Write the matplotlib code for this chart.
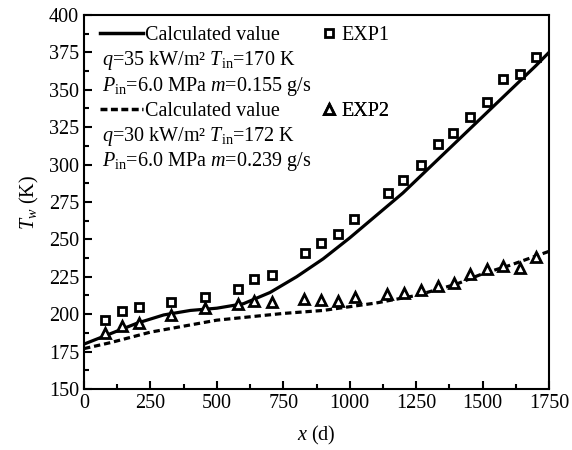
import numpy as np
import matplotlib

matplotlib.use("Agg")
import matplotlib.pyplot as plt
from matplotlib.lines import Line2D

# calculated curves
x_calc1 = [0, 100, 200, 300, 400, 500, 600, 700, 800, 900, 1000, 1100, 1200,
           1300, 1400, 1500, 1600, 1700, 1750]
t_calc1 = [180, 187, 194, 199.5, 202.5, 204, 207, 214.5, 225, 237, 251, 266,
           281, 298, 315, 332, 349, 366, 375]
x_calc2 = [0, 100, 250, 500, 750, 900, 1000, 1100, 1250, 1400, 1500, 1600, 1750]
t_calc2 = [177, 181, 188, 196, 200.5, 202.5, 205, 207.5, 212.5, 220, 227, 232.5, 242]

# experiments
x_exp1 = [79, 143, 208, 328, 454, 578, 641, 706, 830, 890, 955, 1016, 1143,
          1202, 1268, 1331, 1390, 1453, 1518, 1575, 1642, 1702]
t_exp1 = [196, 202.3, 204.6, 208.4, 211.7, 216.8, 223.3, 226, 240.7, 247.4,
          253.6, 263.6, 281.2, 289.7, 299.7, 313.8, 321, 331.8, 341.6, 357.2,
          360.6, 371.6]
x_exp2 = [79, 143, 208, 328, 454, 578, 641, 706, 827, 893, 955, 1018, 1139,
          1205, 1268, 1331, 1392, 1453, 1518, 1577, 1640, 1702]
t_exp2 = [187.2, 192.3, 194.3, 199.5, 204, 206.6, 209, 208.4, 210, 209.5, 209,
          211.3, 213.5, 214.4, 216.2, 218.8, 220.6, 226.8, 230, 232.2, 230.6,
          238.4]

plt.rcParams["font.family"] = "serif"
plt.rcParams["font.serif"] = ["Liberation Serif", "DejaVu Serif"]
plt.rcParams["mathtext.fontset"] = "custom"
plt.rcParams["mathtext.rm"] = "Liberation Serif"
plt.rcParams["mathtext.it"] = "Liberation Serif:italic"
plt.rcParams["font.size"] = 14.5

fig = plt.figure(figsize=(5.72, 4.5), dpi=100)
ax = fig.add_axes([0.1469, 0.1356, 0.8129, 0.8311])

ax.plot(x_calc1, t_calc1, "k-", linewidth=2.3)
ax.plot(x_calc2, t_calc2, "k--", linewidth=2.3, dashes=(2.0, 1.2))
ax.plot(x_exp1, t_exp1, "ks", markerfacecolor="white", markersize=5.5,
        markeredgewidth=2.0, linestyle="none")
ax.plot(x_exp2, t_exp2, "k^", markerfacecolor="white", markersize=6.5,
        markeredgewidth=2.0, linestyle="none")

ax.set_xlim(0, 1750)
ax.set_ylim(150, 400)
ax.set_xticks(np.arange(0, 1751, 250))
ax.set_xticks(np.arange(125, 1750, 250), minor=True)
ax.set_yticks(np.arange(150, 401, 25))
ax.set_yticks(np.arange(162.5, 400, 25), minor=True)
ax.tick_params(which="both", direction="in", top=False, right=False, width=1.5)
ax.tick_params(which="major", length=6)
ax.tick_params(which="minor", length=3.5)
for s in ax.spines.values():
    s.set_linewidth(1.5)

ax.set_xlabel(r"$x$ (d)", labelpad=8)
ax.set_ylabel(r"$T_{w}$ (K)", labelpad=6)


def small_legend(handle, label, x, y, hl, pad):
    leg = ax.legend([handle], [label], loc="center left", bbox_to_anchor=(x, y),
                    frameon=False, borderpad=0, borderaxespad=0,
                    handlelength=hl, handletextpad=pad, fontsize=14.5)
    ax.add_artist(leg)


rows = [0.944, 0.877, 0.810, 0.743, 0.676, 0.609]
solid = Line2D([], [], color="k", linewidth=2.5)
dashed = Line2D([], [], color="k", linewidth=2.5, linestyle="--", dashes=(2.0, 1.0))
sq = Line2D([], [], color="k", marker="s", markerfacecolor="white",
            markersize=5.5, markeredgewidth=2.0, linestyle="none")
tri = Line2D([], [], color="k", marker="^", markerfacecolor="white",
             markersize=6.5, markeredgewidth=2.0, linestyle="none")

small_legend(solid, "Calculated value", 0.034, rows[0], 2.15, 0.1)
small_legend(sq, "EXP1", 0.514, rows[0], 0.6, 0.3)
small_legend(dashed, "Calculated value", 0.034, rows[3], 2.15, 0.1)
small_legend(tri, "EXP2", 0.514, rows[3], 0.6, 0.3)

params = [r"$q$=35 kW/m² $T_{\rm in}$=170 K",
          r"$P_{\rm in}$=6.0 MPa $m$=0.155 g/s",
          r"$q$=30 kW/m² $T_{\rm in}$=172 K",
          r"$P_{\rm in}$=6.0 MPa $m$=0.239 g/s"]
for txt, yy in zip(params, [rows[1], rows[2], rows[4], rows[5]]):
    ax.text(0.038, yy, txt, transform=ax.transAxes, va="center", ha="left",
            fontsize=14.5)

fig.savefig("out.png", dpi=100)
